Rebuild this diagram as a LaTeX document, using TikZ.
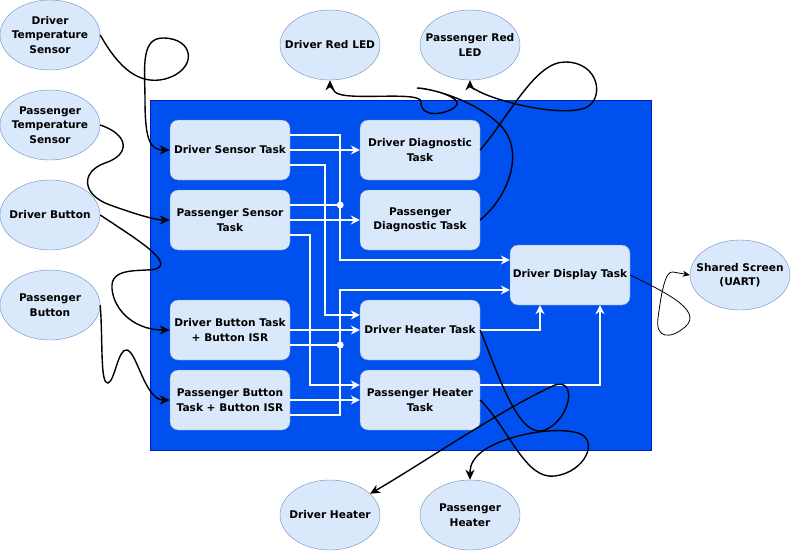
\documentclass[tikz,border=0pt]{standalone}
\usepackage{fontspec}
\setmainfont{DejaVu Sans}
\usetikzlibrary{shapes.geometric,arrows.meta,calc}
\definecolor{cblue}{HTML}{0050EF}
\definecolor{cbluedk}{HTML}{001DBC}
\definecolor{lfill}{HTML}{DAE8FC}
\definecolor{ldraw}{HTML}{6C8EBF}
\tikzset{
  txt/.style={font=\bfseries\fontsize{10.6}{14.5}\selectfont, align=center, text=black},
  ell/.style={txt, ellipse, draw=ldraw, fill=lfill, minimum width=100pt, minimum height=70pt, inner xsep=-12pt, inner ysep=0pt},
  task/.style={txt, rectangle, rounded corners=8pt, draw=ldraw, fill=lfill, minimum width=120pt, minimum height=60pt, inner sep=0pt},
  container/.style={rectangle, draw=cbluedk, fill=cblue, minimum width=501pt, minimum height=350pt, inner sep=0pt},
  wline/.style={draw=white, line width=1.5pt},
  warrow/.style={wline, -{Stealth[length=9pt,width=9pt,inset=3pt]}},
  barrow/.style={draw=black, line width=1.4pt, -{Stealth[length=10pt,width=9pt,inset=3pt]}},
  tarrow/.style={draw=black, line width=0.8pt, -{Stealth[length=7pt,width=6pt,inset=2pt]}},
  wdot/.style={circle, fill=white, inner sep=0pt, minimum size=7pt},
}
\begin{document}
\begin{tikzpicture}[x=1pt,y=-1pt]
\useasboundingbox (0,0) rectangle (791,551);
\node[container] (sys) at (400.5,275) {};
% ellipses
\node[ell] (dts) at (50,35) {Driver\\Temperature\\Sensor};
\node[ell] (pts) at (50,125) {Passenger\\Temperature\\Sensor};
\node[ell] (dbt) at (50,215) {Driver Button};
\node[ell] (pbt) at (50,305) {Passenger\\Button};
\node[ell] (drl) at (330,45) {Driver Red LED};
\node[ell] (prl) at (470,45) {Passenger Red\\LED};
\node[ell] (ss) at (740,275) {Shared Screen\\(UART)};
\node[ell] (dheat) at (330,515) {Driver Heater};
\node[ell] (pheat) at (470,515) {Passenger\\Heater};
% tasks
\node[task] (ds) at (230,150) {Driver Sensor Task};
\node[task] (ps) at (230,220) {Passenger Sensor\\Task};
\node[task] (db) at (230,330) {Driver Button Task\\+ Button ISR};
\node[task] (pb) at (230,400) {Passenger Button\\Task + Button ISR};
\node[task] (dd) at (420,150) {Driver Diagnostic\\Task};
\node[task] (pd) at (420,220) {Passenger\\Diagnostic Task};
\node[task] (dh) at (420,330) {Driver Heater Task};
\node[task] (ph) at (420,400) {Passenger Heater\\Task};
\node[task] (disp) at (570,275) {Driver Display Task};
% white connectors
\draw[warrow] ($(ds.east)+(0,-15)$) -- ++(50,0) |- ($(disp.west)+(0,-15)$);
\draw[warrow] (ds.east) -- (dd.west);
\draw[warrow] ($(ds.east)+(0,15)$) -- ++(35,0) |- ($(dh.west)+(0,-15)$);
\draw[wline] ($(ps.east)+(0,-15)$) -- ++(50,0) node[wdot] (j1) {};
\draw[warrow] (ps.east) -- (pd.west);
\draw[warrow] ($(ps.east)+(0,15)$) -- ++(20,0) |- ($(ph.west)+(0,-15)$);
\draw[warrow] (db.east) -- (dh.west);
\draw[wline] ($(db.east)+(0,15)$) -- ++(50,0) node[wdot] (j2) {};
\draw[warrow] (pb.east) -- (ph.west);
\draw[warrow] ($(pb.east)+(0,15)$) -- ++(50,0) |- ($(disp.west)+(0,15)$);
\draw[warrow] (dh.east) -| ($(disp.south)+(-30,0)$);
\draw[warrow] ($(ph.east)+(0,-15)$) -| ($(disp.south)+(30,0)$);
% black connectors
\draw[barrow] (dts.east) .. controls (120,70) and (140,85) .. (165,79) .. controls (198,70) and (195,38) .. (163,38) .. controls (140,38) and (145,70) .. (145,100) .. controls (145,140) and (150,150) .. (ds.west);
\draw[barrow] (pts.east) .. controls (130,135) and (130,155) .. (105,163) .. controls (80,172) and (82,195) .. (110,205) .. controls (135,214) and (155,220) .. (ps.west);
\draw[barrow] (dbt.east) .. controls (130,235) and (172,260) .. (158,268) .. controls (150,273) and (113,265) .. (112,285) .. controls (111,305) and (130,330) .. (db.west);
\draw[barrow] (pbt.east) .. controls (103,340) and (100,385) .. (108,383) .. controls (115,381) and (118,348) .. (127,350) .. controls (137,352) and (145,400) .. (pb.west);
\draw[barrow] (dd.east) .. controls (510,115) and (535,62) .. (565,62) .. controls (600,62) and (605,100) .. (585,108) .. controls (560,117) and (500,102) .. (480,92) .. controls (474,89) and (470,86) .. (prl.south);
\draw[barrow] (pd.east) .. controls (510,195) and (525,150) .. (500,125) .. controls (475,100) and (430,88) .. (417,88) .. controls (440,90) and (465,100) .. (455,107) .. controls (445,115) and (420,118) .. (421,102) .. controls (422,90) and (345,102) .. (335,92) .. controls (332,88) and (330,85) .. (drl.south);
\draw[tarrow] (disp.east) .. controls (660,290) and (705,310) .. (685,327) .. controls (670,340) and (655,338) .. (658,318) .. controls (661,295) and (665,270) .. (673,272) -- (ss.west);
\draw[barrow] (dh.east) .. controls (500,380) and (520,440) .. (545,430) .. controls (570,420) and (578,378) .. (555,385) .. controls (500,410) and (420,465) .. (dheat.28);
\draw[barrow] (ph.east) .. controls (510,430) and (525,480) .. (555,476) .. controls (585,472) and (600,440) .. (578,433) .. controls (550,425) and (495,438) .. (478,455) .. controls (470,463) and (470,470) .. (pheat.north);
\end{tikzpicture}
\end{document}
